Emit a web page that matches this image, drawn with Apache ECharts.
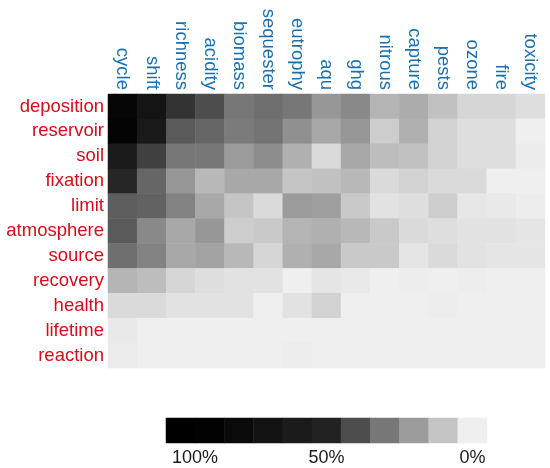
<!DOCTYPE html>
<html lang="en">

<head>
  <meta charset="UTF-8">
  <title>heatmap</title>
  <script src="https://cdn.jsdelivr.net/npm/echarts@6/dist/echarts.min.js"></script>
  <style>
    body { margin: 0; background: #fff; }
    #main { width: 550px; height: 468px; }
  </style>
</head>

<body>
  <div id="main"></div>
  <script>
    // columns / rows
    const topics = ['cycle', 'shift', 'richness', 'acidity', 'biomass', 'sequester', 'eutrophy', 'aqu', 'ghg', 'nitrous', 'capture', 'pests', 'ozone', 'fire', 'toxicity']
    const terms = ['deposition', 'reservoir', 'soil', 'fixation', 'limit', 'atmosphere', 'source', 'recovery', 'health', 'lifetime', 'reaction']

    // share in %, one array per row
    const deposition = [85, 69, 46, 40, 30, 32, 30, 21, 25, 14, 16, 11, 6, 6, 4]
    const reservoir = [87, 62, 37, 34, 29, 31, 23, 17, 21, 8, 15, 7, 4, 4, 0]
    const soil = [60, 43, 30, 30, 20, 24, 15, 5, 17, 12, 11, 7, 4, 4, 1]
    const fixation = [49, 34, 21, 13, 17, 17, 10, 11, 13, 5, 7, 5, 5, 0, 0]
    const limit = [36, 35, 27, 17, 10, 5, 20, 19, 9, 3, 4, 8, 2, 1.5, 0.5]
    const atmosphere = [37, 25, 17, 21, 8, 9, 14, 15, 13, 9, 5, 4, 3, 3, 2.5]
    const source = [32, 27, 17, 18, 13, 6, 15, 17, 9, 9, 2.5, 5, 3, 2.5, 2.5]
    const recovery = [14, 12, 6, 4, 3, 3, 0, 2.5, 1.5, 0, 0.5, 0, 0.5, 0, 0]
    const health = [5, 5, 3, 3, 3, 0, 3, 7, 0, 0, 0, 0.5, 0, 0, 0]
    const lifetime = [1.5, 0, 0, 0, 0, 0, 0, 0, 0, 0, 0, 0, 0, 0, 0]
    const reaction = [1, 0, 0, 0, 0, 0, 0.5, 0, 0, 0, 0, 0, 0, 0, 0]

    // colour bar
    const barSteps = [100, 90, 80, 70, 60, 50, 40, 30, 20, 10, 0]
    const barLabels = ['100%', '', '', '', '', '50%', '', '', '', '', '0%']

    const rows = [deposition, reservoir, soil, fixation, limit, atmosphere, source, recovery, health, lifetime, reaction]
    let cells = []
    rows.forEach(function (row, y) {
      row.forEach(function (v, x) {
        cells.push([x, y, v])
      })
    })
    let barCells = barSteps.map(function (v, i) { return [i, 0, v] })

    let chart = echarts.init(document.getElementById('main'))

    let option = {
      animation: false,
      textStyle: { fontFamily: 'Liberation Sans, Arial, sans-serif' },
      visualMap: {
        show: false,
        type: 'continuous',
        min: 0,
        max: 100,
        inRange: {
          color: ['#efefef', '#c5c5c5', '#9b9b9b', '#777777', '#4d4d4d', '#222222', '#1b1b1b', '#131313', '#0a0a0a', '#020202', '#000000']
        }
      },
      grid: [
        { left: 108, top: 94, width: 437, height: 274 },
        { left: 166, top: 418, width: 321, height: 25 }
      ],
      xAxis: [
        {
          type: 'category',
          data: topics,
          position: 'top',
          gridIndex: 0,
          axisLine: { show: false },
          axisTick: { show: false },
          splitLine: { show: false },
          axisLabel: {
            rotate: 90,
            margin: 4,
            color: '#1a70ad',
            fontSize: 18.5,
            interval: 0
          }
        },
        {
          type: 'category',
          data: barLabels,
          gridIndex: 1,
          axisLine: { show: false },
          axisTick: { show: false },
          axisLabel: {
            interval: 0,
            margin: 6,
            color: '#1a1a1a',
            fontSize: 18,
            formatter: function (v, i) {
              return i === 0 ? '{l|' + v + '}' : v
            },
            rich: {
              l: { fontSize: 18, color: '#1a1a1a', padding: [0, 0, 0, 29] }
            }
          }
        }
      ],
      yAxis: [
        {
          type: 'category',
          data: terms,
          inverse: true,
          gridIndex: 0,
          axisLine: { show: false },
          axisTick: { show: false },
          splitLine: { show: false },
          axisLabel: {
            margin: 4,
            color: '#d40d1a',
            fontSize: 18.5,
            interval: 0
          }
        },
        {
          type: 'category',
          data: [''],
          gridIndex: 1,
          show: false
        }
      ],
      series: [
        {
          type: 'heatmap',
          xAxisIndex: 0,
          yAxisIndex: 0,
          data: cells,
          itemStyle: { borderWidth: 0 },
          emphasis: { disabled: true }
        },
        {
          type: 'heatmap',
          xAxisIndex: 1,
          yAxisIndex: 1,
          data: barCells,
          itemStyle: { borderWidth: 0 },
          emphasis: { disabled: true }
        }
      ]
    }

    chart.setOption(option)
  </script>
</body>

</html>
